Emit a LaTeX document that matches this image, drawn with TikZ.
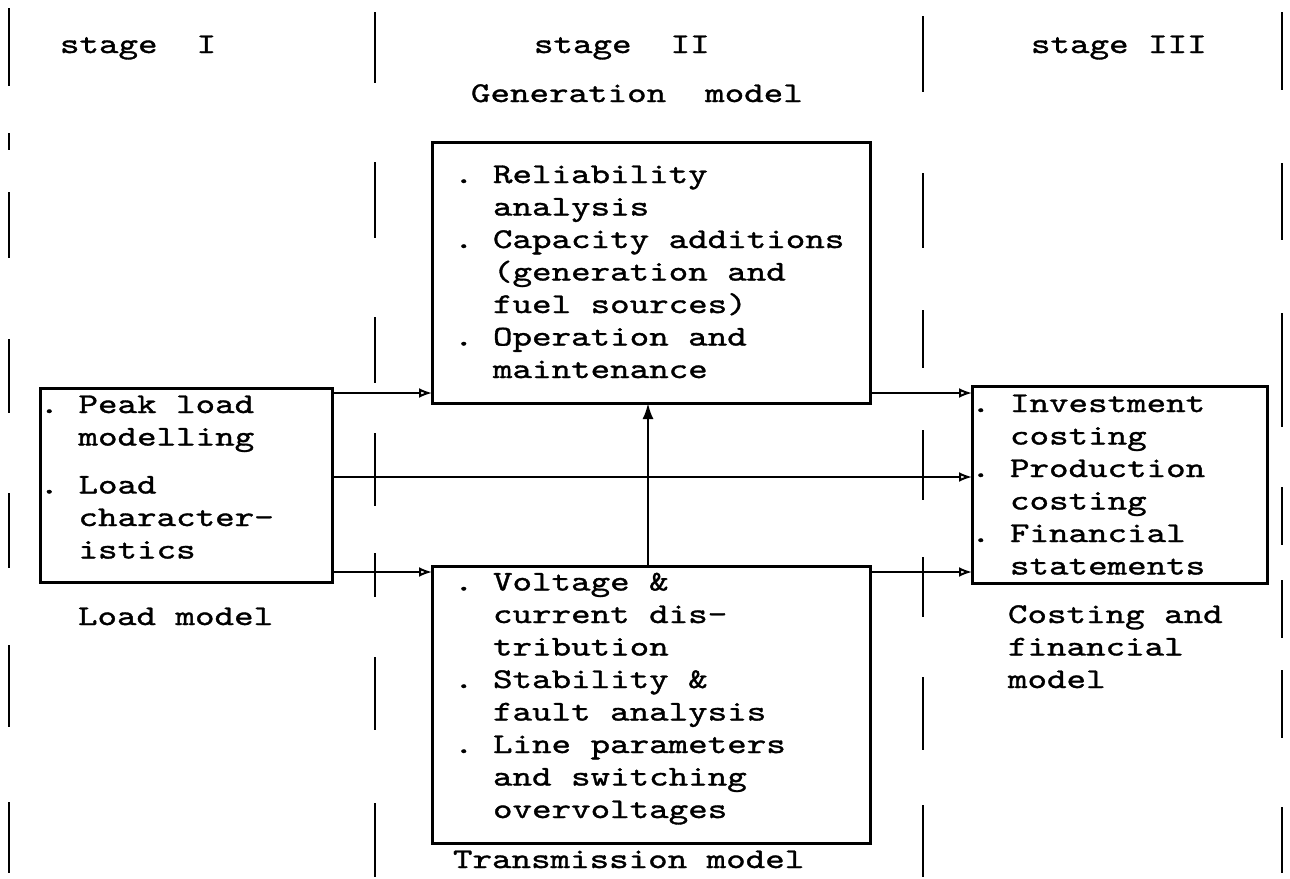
\documentclass[tikz,border=0pt]{standalone}
\usepackage{fontspec}
\usetikzlibrary{arrows.meta}
\newfontfamily\tw{lmmono10-regular.otf}[FakeStretch=1.3,FakeBold=1.2]
\begin{document}
\begin{tikzpicture}[x=1pt,y=-1pt,
  box/.style={draw, line width=3pt, anchor=north west, inner sep=0pt, outer sep=0pt},
  txt/.style={anchor=base west, inner sep=0pt, outer sep=0pt, align=left,
    font=\tw\fontsize{28.6}{32.5}\selectfont\frenchspacing},
  sepline/.style={line width=2.4pt},
  arr/.style={line width=2.6pt, -{Latex[open,length=13pt,width=10pt,line width=2pt]}},
  uparr/.style={line width=2.6pt, -{Latex[length=16pt,width=11pt]}}]
\useasboundingbox (0,0) rectangle (1290,878);
\fill[white] (0,0) rectangle (1290,878);
% separators
\foreach \x/\a/\b in {9/8/86, 9/133/150, 9/192/258, 9/339/413, 9/493/568, 9/645/727, 9/802/873,
  375/12/83, 375/162/238, 375/317/383, 375/433/506, 375/553/597, 375/657/730, 375/803/877,
  923/16/92, 923/173/248, 923/310/368, 923/430/500, 923/557/617, 923/677/750, 923/805/877,
  1282/12/90, 1282/163/240, 1282/313/427, 1282/487/545, 1282/580/638, 1282/670/738, 1282/807/873}
  \draw[sepline] (\x,\a) -- (\x,\b);
% boxes
\node[box, minimum width=292pt, minimum height=194pt] (load) at (40,388) {};
\node[box, minimum width=438pt, minimum height=261pt] (gen) at (432,142) {};
\node[box, minimum width=438pt, minimum height=277pt] (trans) at (432,566) {};
\node[box, minimum width=295pt, minimum height=197pt] (cost) at (972,386) {};
% texts (multi-line nodes are placed by the baseline of their last line)
\node[txt] (genT) at (454,378) {. Reliability\\\hphantom{..}analysis\\. Capacity additions\\\hphantom{..}(generation and\\\hphantom{..}fuel sources)\\. Operation and\\\hphantom{..}maintenance};
\node[txt] (loadT) at (39.5,558.5) {. Peak load\\\hphantom{..}modelling\\[15.5pt]. Load\\\hphantom{..}character-\\\hphantom{..}istics};
\node[txt] (costT) at (971,574.5) {. Investment\\\hphantom{..}costing\\. Production\\\hphantom{..}costing\\. Financial\\\hphantom{..}statements};
\node[txt] (transT) at (454,818) {. Voltage \&\\\hphantom{..}current dis-\\\hphantom{..}tribution\\. Stability \&\\\hphantom{..}fault analysis\\. Line parameters\\\hphantom{..}and switching\\\hphantom{..}overvoltages};
\node[txt] (s1) at (60,53) {stage\hphantom{xx}I};
\node[txt] (s2) at (534,53) {stage\hphantom{xx}II};
\node[txt] (s3) at (1031,53) {stage III};
\node[txt] (gl) at (471,102) {Generation\hphantom{xx}model};
\node[txt] (ll) at (78,625) {Load model};
\node[txt] (tl) at (453,868) {Transmission model};
\node[txt] (cl) at (1008,688) {Costing and\\financial\\model};
% connectors
\coordinate (ya) at (0,393);
\coordinate (yb) at (0,477);
\coordinate (yc) at (0,572);
\coordinate (vx) at (648,0);
\draw[arr] (load.east |- ya) -- (gen.west |- ya);
\draw[arr] (load.east |- yb) -- (cost.west |- yb);
\draw[arr] (load.east |- yc) -- (trans.west |- yc);
\draw[arr] (gen.east |- ya) -- (cost.west |- ya);
\draw[arr] (trans.east |- yc) -- (cost.west |- yc);
\draw[uparr] (trans.north -| vx) -- (gen.south -| vx);
\end{tikzpicture}
\end{document}
